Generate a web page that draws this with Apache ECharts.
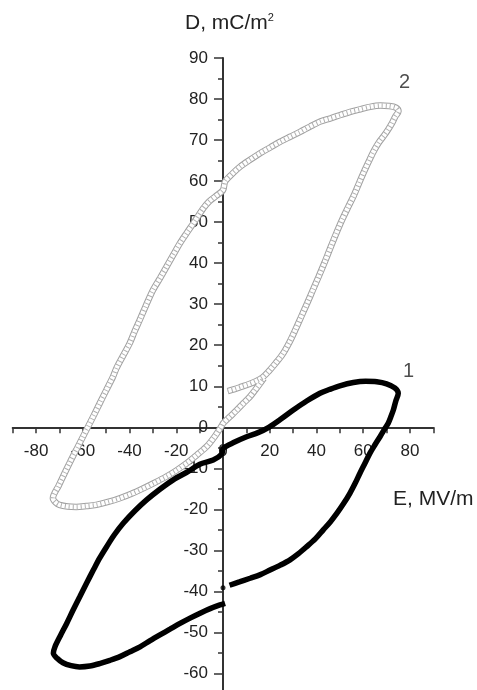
<!DOCTYPE html>
<html>
<head>
<meta charset="utf-8">
<script src="https://cdn.jsdelivr.net/npm/echarts@6/dist/echarts.min.js"></script>
<style>html,body{margin:0;padding:0;background:#fff}#c{width:477px;height:690px}</style>
</head>
<body>
<div id="c"></div>
<script>
// Curve 2 (open grey circles), traced in measurement order
const curve2 = [
  [2,8.8],[5,9.3],[8,9.9],[11,10.5],[14,11.2],[17,12.2],
  [19.5,13.6],[22.5,15.6],[25.5,17.8],[28.5,20.8],[31,23.8],[33.5,27],[36,30.2],[38.5,33.5],[41,36.8],[43.5,40.2],[46,43.8],[48.5,47.3],[51,50.6],[53.5,53.6],[56,56.5],[58.3,59.6],[60.6,62.6],[62.8,65.3],[64.8,67.6],[66.8,69.5],[68.8,71],[70.7,72.6],[72.4,74.2],[73.8,75.8],[75.1,77],
  [74,77.9],[71,78.3],[67.4,78.4],[63,78.1],[58.8,77.5],[54.5,76.9],[50.2,76.1],[46,75.3],[41.6,74.5],[37.3,73.3],[33,72],[28.7,70.8],[24.5,69.6],[20.2,68.2],[15.9,66.8],[11.6,65.2],[7.3,63.5],[4,61.8],[0.9,59.9],[0,57.8],
  [-3.4,56.2],[-6,55],[-8.4,53.4],[-10.5,51.6],[-12.7,49.7],[-15.6,47.3],[-18.5,44.8],[-21.3,42],[-24.2,39.1],[-27,36.3],[-29.9,33.5],[-32.8,29.9],[-35.6,26.2],[-37.8,23.4],[-39.9,20.5],[-42.8,17.4],[-45.6,14.4],[-47.1,12.3],[-50,9],[-52.8,5.8],[-55.3,2.9],[-57.8,0.1],[-60.3,-2.7],[-62.8,-5.5],[-65.3,-8.3],[-67.8,-11.2],[-70.3,-14.2],[-72.8,-17.3],
  [-71.5,-18.4],[-70,-18.9],[-66.5,-19.3],[-62.8,-19.4],[-58.5,-19.2],[-54.2,-18.9],[-49.2,-18.2],[-44.2,-17.3],[-39.2,-16.2],[-34.2,-14.9],[-29.2,-13.5],[-24.2,-12],[-19.9,-10.5],[-15.6,-8.8],[-11.3,-6.8],[-7,-4.7],[-3.5,-2.2],[-0.6,0.3],
  [0.1,1],[3,2.6],[5.9,4.2],[8.8,5.9],[11.6,7.5],[13.8,9.1],[15.9,10.7],[17.5,12]
];
// Curve 1 (filled black circles), traced in measurement order
const curve1Start = [[0,-39.1]];
const curve1 = [
  [2.8,-38.5],[7,-37.7],[11.6,-36.8],[16,-35.9],[20.1,-34.8],[24.5,-33.6],[28.7,-32.3],[32.3,-30.8],[35.8,-29.1],[39.5,-27.2],[42.9,-25],[46,-23],[48.7,-21],[51.6,-18.6],[54.3,-16.1],[56.6,-13.6],[58.6,-11.2],[60.8,-8.7],[62.9,-6.3],[65.1,-4.2],[67.2,-2.3],[69.3,-0.3],[70.7,1],[72,2.8],[72.9,4.2],[73.9,6.3],[75,8.3],
  [73.5,9.6],[70,10.6],[65.8,11.1],[61,11.2],[55.8,10.9],[50,10.1],[45.5,9.2],[41.5,8.3],[35.8,6.4],[30.1,4.2],[24.8,2],[19.6,0],[15,-1.3],[10.1,-2.3],[5,-3.6],[0.1,-5.1],[-0.5,-6.5],
  [-4.2,-8],[-9.9,-9],[-15,-10.8],[-21.3,-12.8],[-27,-15.1],[-32.7,-17.7],[-37.8,-20.4],[-42.7,-23.4],[-46.5,-26.2],[-49.8,-29.1],[-52.8,-31.9],[-55.5,-34.8],[-58.4,-38],[-61.3,-41.3],[-64.2,-44.6],[-66.9,-47.8],[-69.6,-50.8],[-71.9,-53.5],[-72.6,-55.1],
  [-71,-56.3],[-68.5,-57.4],[-65,-58.1],[-61.4,-58.4],[-57,-58.2],[-52.8,-57.6],[-48.4,-56.8],[-44.1,-55.9],[-39.8,-54.7],[-35.5,-53.5],[-31.2,-52],[-27,-50.6],[-22.7,-49.2],[-18.4,-47.8],[-14.1,-46.5],[-9.8,-45.3],[-5.5,-44.2],[-1.3,-43.3],[0.9,-42.9]
];
const labelTexts = [{text:'2', x:77.7, y:84}, {text:'1', x:79.4, y:13.6}];
const xTicks = [-80,-60,-40,-20,0,20,40,60,80];
const yTicks = [90,80,70,60,50,40,30,20,10,0,-10,-20,-30,-40,-50,-60];

const FONT = '"Liberation Sans", Arial, sans-serif';
// layout (pixels)
const W = 477, H = 690;
const G = {left:12.7, right:43.7, top:58, bottom:-24.5};
const X_MIN = -90, X_MAX = 90, Y_MIN = -70, Y_MAX = 90;
const gridW = W - G.left - G.right, gridH = H - G.top - G.bottom;
const yAxisOffset = -gridW * (0 - X_MIN) / (X_MAX - X_MIN);   // shift y axis to E = 0
const xAxisOffset = -gridH * (0 - Y_MIN) / (Y_MAX - Y_MIN);   // shift x axis to D = 0

const chart = echarts.init(document.getElementById('c'), null, {renderer:'canvas'});
const axisColor = '#333';
chart.setOption({
  animation:false,
  backgroundColor:'#fff',
  grid:{left:G.left, right:G.right, top:G.top, bottom:G.bottom, containLabel:false, outerBoundsMode:'none'},
  xAxis:{
    type:'value', min:X_MIN, max:X_MAX, interval:10, position:'bottom', offset:xAxisOffset,
    axisLine:{onZero:false, lineStyle:{color:axisColor, width:2}},
    axisTick:{show:true, length:6, lineStyle:{color:axisColor, width:1.5}},
    splitLine:{show:false},
    axisLabel:{fontSize:17, fontFamily:FONT, color:'#222', margin:16, hideOverlap:false,
      formatter:v => xTicks.indexOf(v) >= 0 ? String(v) : ''}
  },
  yAxis:{
    type:'value', min:Y_MIN, max:Y_MAX, interval:10, position:'left', offset:yAxisOffset,
    axisLine:{onZero:false, lineStyle:{color:axisColor, width:2}},
    axisTick:{show:true, length:9, lineStyle:{color:axisColor, width:1.5}},
    minorTick:{show:true, splitNumber:2, length:5, lineStyle:{color:axisColor, width:1.5}},
    splitLine:{show:false},
    axisLabel:{fontSize:17, fontFamily:FONT, color:'#222', margin:15, hideOverlap:false,
      formatter:v => yTicks.indexOf(v) >= 0 ? String(v) : ''}
  },
  graphic:[
    {type:'text', left:185, top:12, style:{text:'D, mC/m{s|2}', font:'21px '+FONT, fill:'#222',
      rich:{s:{fontSize:11, fontFamily:FONT, fill:'#222', verticalAlign:'top', padding:[0,0,12,0]}}}},
    {type:'text', left:393, top:489, style:{text:'E, MV/m', font:'21px '+FONT, fill:'#222'}}
  ],
  series:[
    {type:'line', data:curve2, smooth:0.3, symbol:'none', z:2, lineStyle:{color:'#a0a0a0', width:6.5}},
    {type:'line', data:curve2, smooth:0.3, symbol:'none', z:3, lineStyle:{color:'#fff', width:4.5}},
    {type:'line', data:curve2, smooth:0.3, symbol:'none', z:4, lineStyle:{color:'#b0b0b0', width:4.5, type:[1,3], cap:'butt'}},
    {type:'line', data:curve1, smooth:0.3, symbol:'none', z:5, lineStyle:{color:'#000', width:5.5}},
    {type:'scatter', data:curve1Start, symbol:'circle', symbolSize:5, z:5, itemStyle:{color:'#000'}},
    {type:'scatter', data:labelTexts.map(d => ({value:[d.x,d.y], name:d.text})), symbolSize:0, z:6,
      label:{show:true, position:'inside', formatter:p => p.name, fontSize:20, fontFamily:FONT, color:'#222'}}
  ]
});
</script>
</body>
</html>
